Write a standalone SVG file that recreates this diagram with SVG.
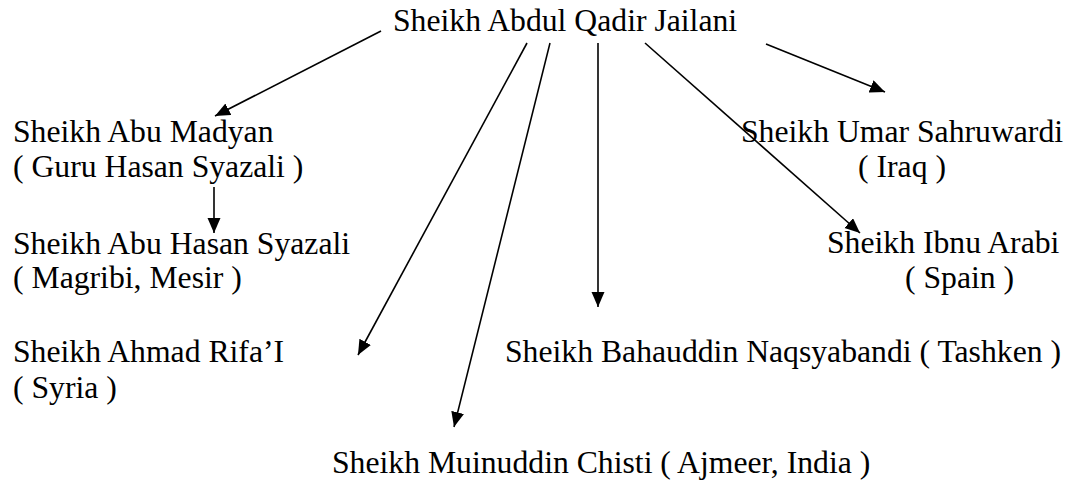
<svg xmlns="http://www.w3.org/2000/svg" width="1072" height="482" viewBox="0 0 1072 482">
<style>
.c{text-anchor:middle}
.ln{stroke:#000;stroke-width:1.6;fill:none;marker-end:url(#ah)}
</style>
<defs>
<marker id="ah" markerUnits="userSpaceOnUse" markerWidth="16" markerHeight="14" refX="15" refY="6.5" orient="auto">
<path d="M0,0 L15,6.5 L0,13 z" fill="#000"/>
</marker>
</defs>
<rect width="1072" height="482" fill="#fff"/>
<g id="connectors">
<line class="ln" x1="381" y1="31" x2="215" y2="116"/>
<line class="ln" x1="214" y1="187" x2="214" y2="233"/>
<line class="ln" x1="527" y1="43" x2="358" y2="355"/>
<line class="ln" x1="550" y1="43" x2="454" y2="427"/>
<line class="ln" x1="598" y1="43" x2="598" y2="307"/>
<line class="ln" x1="645" y1="43" x2="860" y2="233"/>
<line class="ln" x1="766" y1="44" x2="885" y2="92"/>
</g>
<g font-family="Liberation Serif" font-size="31.7px" fill="#000">
<g id="jailani"><text x="393" y="31">Sheikh Abdul Qadir Jailani</text></g>
<g id="madyan"><text x="13" y="142">Sheikh Abu Madyan</text><text x="13" y="177">( Guru Hasan Syazali )</text></g>
<g id="syazali"><text x="13" y="254">Sheikh Abu Hasan Syazali</text><text x="13" y="288">( Magribi, Mesir )</text></g>
<g id="rifai"><text x="13" y="362">Sheikh Ahmad Rifa’I</text><text x="13" y="398">( Syria )</text></g>
<g id="chisti"><text x="332" y="473">Sheikh Muinuddin Chisti ( Ajmeer, India )</text></g>
<g id="naqsyabandi"><text x="505" y="362">Sheikh Bahauddin Naqsyabandi ( Tashken )</text></g>
<g id="sahruwardi"><text class="c" x="902" y="142">Sheikh Umar Sahruwardi</text><text class="c" x="902" y="177">( Iraq )</text></g>
<g id="arabi"><text x="827" y="253">Sheikh Ibnu Arabi</text><text x="905" y="288">( Spain )</text></g>
</g>
</svg>
